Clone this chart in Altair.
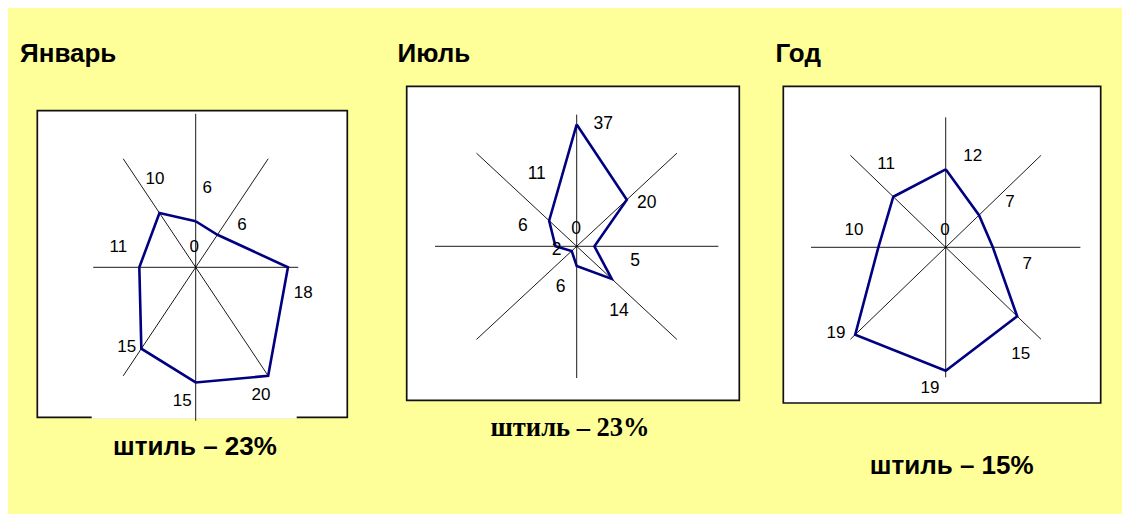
import math
import altair as alt
import pandas as pd

# ---------------- data ----------------
directions = ["С", "СВ", "В", "ЮВ", "Ю", "ЮЗ", "З", "СЗ"]
angles = [0, 45, 90, 135, 180, 225, 270, 315]
jan_values = [6, 6, 18, 20, 15, 15, 11, 10]
jul_values = [37, 20, 5, 14, 6, 2, 6, 11]
year_values = [12, 7, 7, 15, 19, 19, 10, 11]
titles = ["Январь", "Июль", "Год"]
calm_texts = ["штиль – 23%", "штиль – 23%", "штиль – 15%"]
axis_max = [20, 40, 20]
zero_text = "0"

# ---------------- layout (pixels, per panel) ----------------
H = 506
layout = [
    dict(w=372, cx=187.7, cy=259.3, rx=102.5, ry=153.5,
         box=(29.3, 339.3, 102.7, 409.3), gap=(83.7, 288.7),
         title_x=12, title_y=54, cap=(187, 438.7),
         cap_font="Liberation Sans", cap_size=26,
         label_font="Liberation Sans Narrow, Arial Narrow, Liberation Sans", label_size=17,
         offs=[(11.6, -33), (24.6, -9.7), (15.3, 26), (-7.2, 19.2), (-13.4, 18.6),
               (-14.6, -1.4), (-21, -20.6), (-4.5, -33.7)],
         zero_off=(-1.4, -20.6)),
    dict(w=375, cx=196.7, cy=238.3, rx=141.7, ry=131.7,
         box=(26.7, 359.3, 78.3, 392.3), gap=None,
         title_x=17.6, title_y=54, cap=(190, 420),
         cap_font="Liberation Serif", cap_size=26.5,
         label_font="Liberation Sans", label_size=17.5,
         offs=[(26.6, -0.5), (19.9, 3.3), (40.6, 14.4), (7.2, 32.4), (-16, 21.2),
               (-15, -1.3), (-32.7, -20), (-12.4, -46.7)],
         zero_off=(-0.7, -17.6)),
    dict(w=367, cx=190.7, cy=239.3, rx=134.7, ry=130,
         box=(28.3, 345.7, 78.3, 395), gap=None,
         title_x=20.4, title_y=54, cap=(196.7, 457.7),
         cap_font="Liberation Sans", cap_size=26,
         label_font="Liberation Sans", label_size=17,
         offs=[(27, -13.6), (31, -12.8), (34.5, 16.7), (3.6, 37.8), (-15.7, 17.2),
               (-19.2, -1.6), (-24.3, -17.6), (-7.3, -32.7)],
         zero_off=(-0.7, -17.6)),
]

NAVY = "#000080"


def panel(values, M, title, calm, L):
    kx = L["rx"] / M
    ky = L["ry"] / M
    xs = alt.Scale(domain=[-L["cx"] / kx, (L["w"] - L["cx"]) / kx], nice=False, zero=False)
    ys = alt.Scale(domain=[-(H - L["cy"]) / ky, L["cy"] / ky], nice=False, zero=False)

    rad = [math.radians(a) for a in angles]
    poly = pd.DataFrame({
        "dir": directions + [directions[0]],
        "order": list(range(9)),
        "x": [v * math.sin(r) for v, r in zip(values, rad)] + [values[0] * math.sin(rad[0])],
        "y": [v * math.cos(r) for v, r in zip(values, rad)] + [values[0] * math.cos(rad[0])],
    })
    spokes = pd.DataFrame({
        "x": [M * math.sin(r) for r in rad[:4]],
        "y": [M * math.cos(r) for r in rad[:4]],
        "x2": [-M * math.sin(r) for r in rad[:4]],
        "y2": [-M * math.cos(r) for r in rad[:4]],
    })
    labels = pd.DataFrame({
        "text": [str(v) for v in values] + [zero_text],
        "x": [v * math.sin(r) + o[0] / kx for v, r, o in zip(values, rad, L["offs"])]
             + [L["zero_off"][0] / kx],
        "y": [v * math.cos(r) - o[1] / ky for v, r, o in zip(values, rad, L["offs"])]
             + [-L["zero_off"][1] / ky],
    })
    one = pd.DataFrame({"title": [title], "calm": [calm]})

    bx0, bx1, by0, by1 = L["box"]
    box = alt.Chart(one).mark_rect(fill="white", stroke="#111111", strokeWidth=1.7).encode(
        x=alt.value(bx0), x2=alt.value(bx1), y=alt.value(by0), y2=alt.value(by1))
    layers = [box]
    if L["gap"]:
        layers.append(alt.Chart(one).mark_rule(color="white", strokeWidth=3).encode(
            x=alt.value(L["gap"][0]), x2=alt.value(L["gap"][1]), y=alt.value(by1)))
    layers.append(alt.Chart(spokes).mark_rule(color="black", strokeWidth=0.9).encode(
        x=alt.X("x:Q", scale=xs, axis=None), y=alt.Y("y:Q", scale=ys, axis=None),
        x2="x2:Q", y2="y2:Q"))
    layers.append(alt.Chart(poly).mark_line(color=NAVY, strokeWidth=2.6, strokeJoin="miter").encode(
        x=alt.X("x:Q", scale=xs, axis=None), y=alt.Y("y:Q", scale=ys, axis=None),
        order="order:Q"))
    layers.append(alt.Chart(labels).mark_text(
        font=L["label_font"], fontSize=L["label_size"], color="black",
        align="center", baseline="middle").encode(
        x=alt.X("x:Q", scale=xs, axis=None), y=alt.Y("y:Q", scale=ys, axis=None),
        text="text:N"))
    layers.append(alt.Chart(one).mark_text(
        font="Liberation Sans", fontSize=26, fontWeight="bold", color="black",
        align="left", baseline="alphabetic").encode(
        x=alt.value(L["title_x"]), y=alt.value(L["title_y"]), text="title:N"))
    layers.append(alt.Chart(one).mark_text(
        font=L["cap_font"], fontSize=L["cap_size"], fontWeight="bold", color="black",
        align="center", baseline="middle").encode(
        x=alt.value(L["cap"][0]), y=alt.value(L["cap"][1]), text="calm:N"))
    return alt.layer(*layers).properties(width=L["w"], height=H)


series = [jan_values, jul_values, year_values]
charts = [panel(series[i], axis_max[i], titles[i], calm_texts[i], layout[i]) for i in range(3)]

chart = alt.hconcat(*charts, spacing=0).configure(
    background="#FFFF99", padding=0
).configure_view(stroke=None)

chart.save("out.html", embed_options={"renderer": "svg", "actions": False})
